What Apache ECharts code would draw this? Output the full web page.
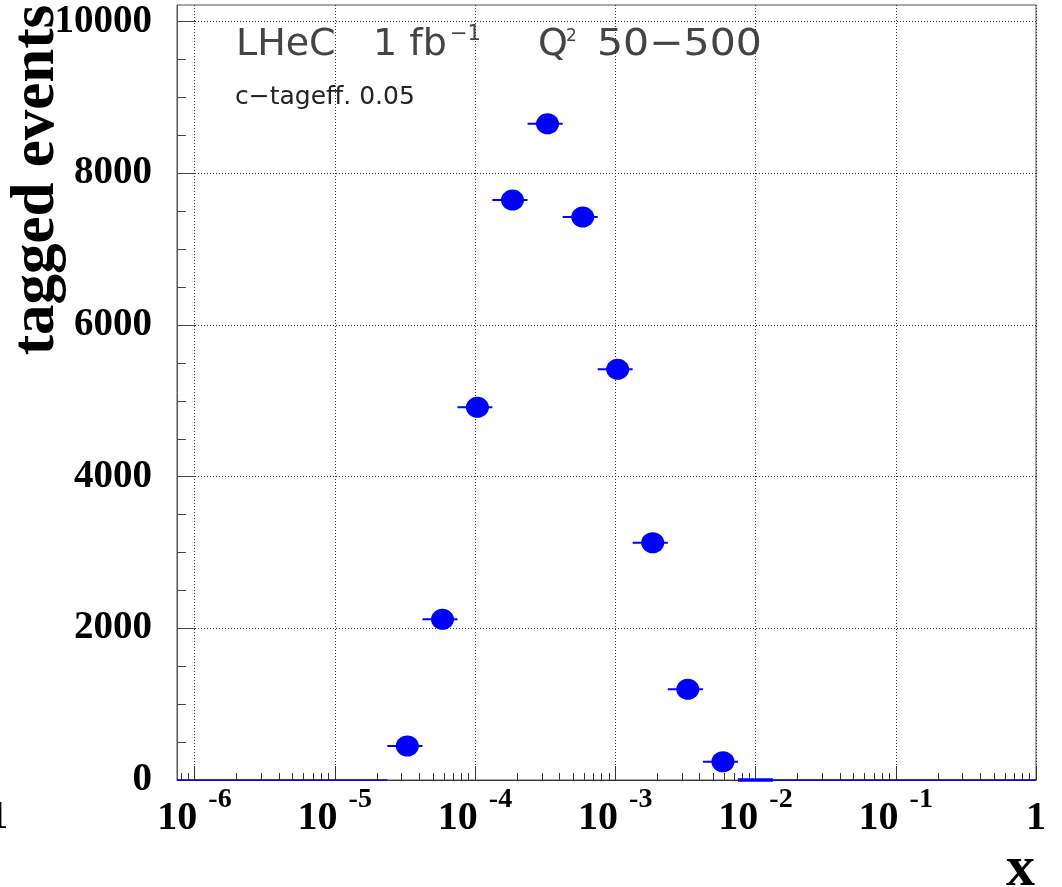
<!DOCTYPE html>
<html>
<head>
<meta charset="utf-8">
<script src="https://cdn.jsdelivr.net/npm/echarts@6/dist/echarts.min.js"></script>
<style>
  html, body { margin: 0; padding: 0; background: #fff; }
  #chart { width: 1062px; height: 887px; }
</style>
</head>
<body>
<div id="chart"></div>
<script>
// ---- data ----
const xCenter = [3.29e-5, 5.86e-5, 1.04e-4, 1.85e-4, 3.29e-4, 5.86e-4, 1.04e-3, 1.85e-3, 3.29e-3, 5.86e-3];
const xLow    = [2.37e-5, 4.22e-5, 7.50e-5, 1.33e-4, 2.37e-4, 4.22e-4, 7.50e-4, 1.33e-3, 2.37e-3, 4.22e-3];
const xHigh   = [4.22e-5, 7.50e-5, 1.33e-4, 2.37e-4, 4.22e-4, 7.50e-4, 1.33e-3, 2.37e-3, 4.22e-3, 7.50e-3];
const taggedEvents = [448, 2119, 4914, 7647, 8653, 7423, 5415, 3129, 1196, 241];

// empty bins drawn as flat error bars at zero
const emptyLow  = [7.5e-7, 1.33e-2];
const emptyHigh = [2.37e-5, 1];
const emptyValue = [0, 0];
const edgeBinLow = [7.5e-3];
const edgeBinHigh = [1.33e-2];
const edgeBinValue = [0];

// axis ticks
const xMin = 7.499e-7, xMax = 1;
const yMin = 0, yMax = 10220;
const xMajorTicks = [1e-6, 1e-5, 1e-4, 1e-3, 1e-2, 1e-1, 1];
const xMinorMult = [2, 3, 4, 5, 6, 7, 8, 9];
const yMajorTicks = [0, 2000, 4000, 6000, 8000, 10000];
const yMinorStep = 500;

// ---- build ----
const xMinorTicks = [8e-7, 9e-7];
for (let i = 0; i < xMajorTicks.length - 1; i++) {
  xMinorMult.forEach(m => xMinorTicks.push(m * xMajorTicks[i]));
}
const yMinorTicks = [];
for (let v = 0; v <= 10000; v += yMinorStep) yMinorTicks.push(v);

const barData = xLow.map((l, i) => [l, xHigh[i], taggedEvents[i]]);
const emptyData = emptyLow.map((l, i) => [l, emptyHigh[i], emptyValue[i]]);
const edgeData = edgeBinLow.map((l, i) => [l, edgeBinHigh[i], edgeBinValue[i]]);
const pointData = xCenter.map((x, i) => [x, taggedEvents[i]]);

function hbar(width) {
  return function (params, api) {
    const p1 = api.coord([api.value(0), api.value(2)]);
    const p2 = api.coord([api.value(1), api.value(2)]);
    return {
      type: 'line',
      shape: { x1: p1[0], y1: p1[1], x2: p2[0], y2: p2[1] },
      style: { stroke: '#0000ff', lineWidth: width }
    };
  };
}

const serif = 'Liberation Serif';

const chart = echarts.init(document.getElementById('chart'), null, { renderer: 'canvas' });
chart.setOption({
  animation: false,
  backgroundColor: '#ffffff',
  grid: { left: 177, right: 26, top: 5, bottom: 107, show: true, borderColor: '#555', borderWidth: 1, backgroundColor: 'transparent' },
  xAxis: [
    {
      type: 'log', min: xMin, max: xMax, logBase: 10, position: 'bottom',
      axisLine: { show: true, lineStyle: { color: '#333', width: 1 } },
      axisTick: { show: true, inside: true, length: 14, customValues: xMajorTicks, lineStyle: { color: '#333' } },
      axisLabel: {
        show: true, margin: 6, customValues: xMajorTicks,
        formatter: function (v) {
          const e = Math.round(Math.log10(v));
          if (e === 0) return '{b|1}';
          return '{b|10}{s|' + e + '}';
        },
        rich: {
          b: { fontFamily: serif, fontWeight: 'bold', fontSize: 40, color: '#000', lineHeight: 40, padding: [25, 0, 0, 0] },
          s: { fontFamily: serif, fontWeight: 'bold', fontSize: 28, color: '#000', lineHeight: 28, verticalAlign: 'top', padding: [0, 0, 0, 11] }
        }
      },
      splitLine: { show: true, lineStyle: { color: '#333', width: 1, type: [1, 2] } }
    },
    {
      type: 'log', min: xMin, max: xMax, logBase: 10, position: 'bottom',
      axisLine: { show: false },
      axisTick: { show: true, inside: true, length: 7, customValues: xMinorTicks, lineStyle: { color: '#333' } },
      axisLabel: { show: false },
      splitLine: { show: false }
    }
  ],
  yAxis: [
    {
      type: 'value', min: yMin, max: yMax, interval: 2000, position: 'left',
      axisLine: { show: true, lineStyle: { color: '#555', width: 1 } },
      axisTick: { show: true, inside: true, length: 18, customValues: yMajorTicks, lineStyle: { color: '#444' } },
      axisLabel: {
        show: true, margin: 25, customValues: yMajorTicks,
        fontFamily: serif, fontWeight: 'bold', fontSize: 39, color: '#000',
        formatter: function (v) { return String(v); }
      },
      splitLine: { show: true, lineStyle: { color: '#333', width: 1, type: [1, 2] } }
    },
    {
      type: 'value', min: yMin, max: yMax, position: 'left',
      axisLine: { show: false },
      axisTick: { show: true, inside: true, length: 9, customValues: yMinorTicks, lineStyle: { color: '#444' } },
      axisLabel: { show: false },
      splitLine: { show: false }
    }
  ],
  series: [
    { type: 'custom', xAxisIndex: 0, yAxisIndex: 0, renderItem: hbar(1.5), data: emptyData, encode: { x: [0, 1], y: 2 }, silent: true, z: 3 },
    { type: 'custom', xAxisIndex: 0, yAxisIndex: 0, renderItem: hbar(3.5), data: edgeData, encode: { x: [0, 1], y: 2 }, silent: true, z: 3 },
    { type: 'custom', xAxisIndex: 0, yAxisIndex: 0, renderItem: hbar(2), data: barData, encode: { x: [0, 1], y: 2 }, silent: true, z: 4 },
    {
      type: 'scatter', xAxisIndex: 0, yAxisIndex: 0, data: pointData,
      symbol: 'circle', symbolSize: [23, 21],
      itemStyle: { color: '#0000ff', opacity: 1 }, silent: true, z: 5
    }
  ],
  graphic: [
    { type: 'text', x: 37, y: 180, rotation: Math.PI / 2, style: { text: 'tagged events', font: 'bold 61px "Liberation Serif"', fill: '#000', align: 'center', verticalAlign: 'middle' } },
    { type: 'text', x: 1035, y: 870, style: { text: 'x', font: 'bold 58px "Liberation Serif"', fill: '#000', align: 'right', verticalAlign: 'middle' } },
    { type: 'text', x: -12, y: 818, style: { text: '1', font: 'bold 40px "Liberation Serif"', fill: '#000', align: 'left', verticalAlign: 'middle' } },
    { type: 'text', x: 236, y: 45, style: { text: 'LHeC', font: '38px "DejaVu Sans"', fill: '#444', align: 'left', verticalAlign: 'middle' } },
    { type: 'text', x: 373, y: 45, style: { text: '1 fb', font: '38px "DejaVu Sans"', fill: '#444', align: 'left', verticalAlign: 'middle' } },
    { type: 'text', x: 450, y: 35, style: { text: '\u22121', font: '21px "DejaVu Sans"', fill: '#444', align: 'left', verticalAlign: 'middle' } },
    { type: 'text', x: 538, y: 45, style: { text: 'Q', font: '38px "DejaVu Sans"', fill: '#444', align: 'left', verticalAlign: 'middle' } },
    { type: 'text', x: 566, y: 37, style: { text: '2', font: '17px "DejaVu Sans"', fill: '#444', align: 'left', verticalAlign: 'middle' } },
    { type: 'text', x: 597, y: 45, scaleX: 1.08, style: { text: '50\u2212500', font: '38px "DejaVu Sans"', fill: '#444', align: 'left', verticalAlign: 'middle' } },
    { type: 'text', x: 235, y: 97, style: { text: 'c\u2212tageff. 0.05', font: '25px "DejaVu Sans"', fill: '#222', align: 'left', verticalAlign: 'middle' } }
  ]
});
</script>
</body>
</html>
